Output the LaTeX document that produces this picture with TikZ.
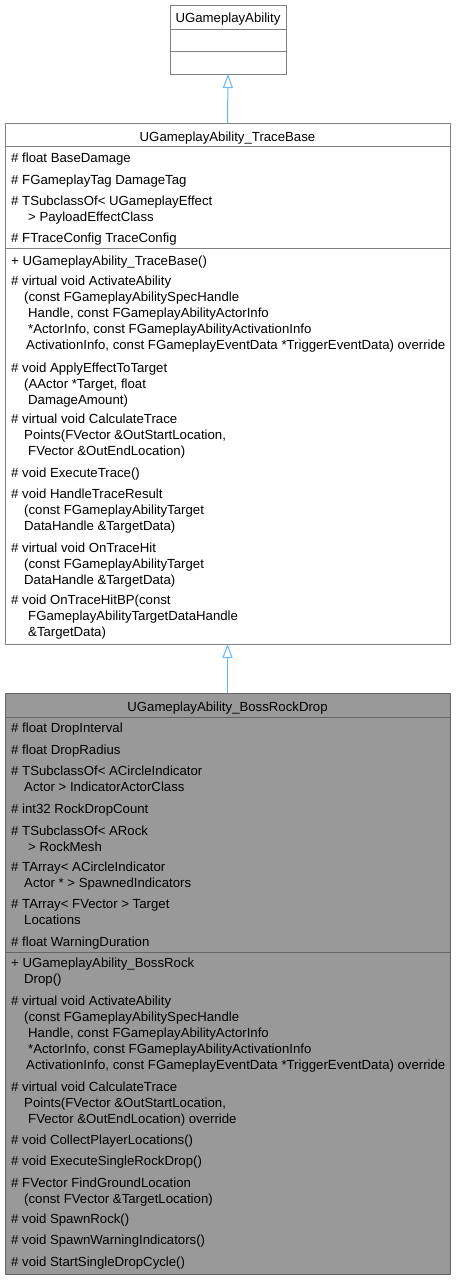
\documentclass[tikz,border=0pt]{standalone}
\usepackage{fontspec}
\setmainfont{Liberation Sans}
\usetikzlibrary{arrows.meta}
\definecolor{edgeblue}{HTML}{63B8FF}
\definecolor{boxline}{HTML}{808080}
\definecolor{hiline}{HTML}{666666}
\definecolor{hifill}{HTML}{999999}
\newcommand{\ia}{\hspace*{13pt}}
\newcommand{\ib}{\hspace*{17pt}}
\newcommand{\ic}{\hspace*{15pt}}
\newcommand{\st}{\rule{0pt}{11pt}}
\begin{document}
\begin{tikzpicture}[x=1pt,y=-1pt,
	box/.style={draw=boxline, fill=white, line width=1pt, inner sep=0, outer sep=0},
	hibox/.style={draw=hiline, fill=hifill, line width=1pt, inner sep=0, outer sep=0},
	sep/.style={boxline, line width=1pt},
	hisep/.style={hiline, line width=1pt},
	title/.style={anchor=north, inner sep=0, font=\fontsize{13.2}{16}\selectfont},
	member/.style={anchor=north west, inner sep=0, align=left, font=\fontsize{13.2}{16}\selectfont},
	inherit/.style={edgeblue, line width=1pt, -{Triangle[open, length=14pt, width=10pt]}}]
	
	\useasboundingbox (0,0) rectangle (456,1280);
	
	% base class
	\node[box, minimum width=116, minimum height=69] (base) at (228,39.5) {};
	\draw[sep] (170,29) -- (286,29);
	\draw[sep] (170,51) -- (286,51);
	\node[title] (basename) at (228,22-11) {\st UGameplayAbility};
	
	% trace base
	\node[box, minimum width=445, minimum height=521] (trace) at (227.5,383.5) {};
	\draw[sep] (5,146) -- (450,146);
	\draw[sep] (5,248) -- (450,248);
	\node[title] (tracename) at (227.5,141-11) {\st UGameplayAbility\_TraceBase};
	
	\node[member] (ta1) at (11,162-11) {\st\# float BaseDamage};
	\node[member] (ta2) at (11,184-11) {\st\# FGameplayTag DamageTag};
	\node[member] (ta3) at (11,205-11) {\st\# TSubclassOf< UGameplayEffect\\ \ib> PayloadEffectClass};
	\node[member] (ta4) at (11,242-11) {\st\# FTraceConfig TraceConfig};
	
	\node[member] (tm1) at (11,265-11) {\st+ UGameplayAbility\_TraceBase()};
	\node[member] (tm2) at (11,285-11) {\st\# virtual void ActivateAbility\\ \ia(const FGameplayAbilitySpecHandle\\ \ib Handle, const FGameplayAbilityActorInfo\\ \ib *ActorInfo, const FGameplayAbilityActivationInfo\\ \ic ActivationInfo, const FGameplayEventData *TriggerEventData) override};
	\node[member] (tm3) at (11,372-11) {\st\# void ApplyEffectToTarget\\ \ia(AActor *Target, float\\ \ib DamageAmount)};
	\node[member] (tm4) at (11,423-11) {\st\# virtual void CalculateTrace\\ \ia Points(FVector \&OutStartLocation,\\ \ib FVector \&OutEndLocation)};
	\node[member] (tm5) at (11,477-11) {\st\# void ExecuteTrace()};
	\node[member] (tm6) at (11,498-11) {\st\# void HandleTraceResult\\ \ia(const FGameplayAbilityTarget\\ \ia DataHandle \&TargetData)};
	\node[member] (tm7) at (11,552-11) {\st\# virtual void OnTraceHit\\ \ia(const FGameplayAbilityTarget\\ \ia DataHandle \&TargetData)};
	\node[member] (tm8) at (11,604-11) {\st\# void OnTraceHitBP(const\\ \ib FGameplayAbilityTargetDataHandle\\ \ib\&TargetData)};
	
	% boss rock drop
	\node[hibox, minimum width=445, minimum height=581] (rock) at (227.5,983.5) {};
	\draw[hisep] (5,717) -- (450,717);
	\draw[hisep] (5,952) -- (450,952);
	\node[title] (rockname) at (227.5,711-11) {\st UGameplayAbility\_BossRockDrop};
	
	\node[member] (ra1) at (11,732-11) {\st\# float DropInterval};
	\node[member] (ra2) at (11,754-11) {\st\# float DropRadius};
	\node[member] (ra3) at (11,775-11) {\st\# TSubclassOf< ACircleIndicator\\ \ia Actor > IndicatorActorClass};
	\node[member] (ra4) at (11,813-11) {\st\# int32 RockDropCount};
	\node[member] (ra5) at (11,835-11) {\st\# TSubclassOf< ARock\\ \ib> RockMesh};
	\node[member] (ra6) at (11,871-11) {\st\# TArray< ACircleIndicator\\ \ia Actor * > SpawnedIndicators};
	\node[member] (ra7) at (11,908-11) {\st\# TArray< FVector > Target\\ \ia Locations};
	\node[member] (ra8) at (11,946-11) {\st\# float WarningDuration};
	
	\node[member] (rm1) at (11,967-11) {\st+ UGameplayAbility\_BossRock\\ \ia Drop()};
	\node[member] (rm2) at (11,1005-11) {\st\# virtual void ActivateAbility\\ \ia(const FGameplayAbilitySpecHandle\\ \ib Handle, const FGameplayAbilityActorInfo\\ \ib *ActorInfo, const FGameplayAbilityActivationInfo\\ \ic ActivationInfo, const FGameplayEventData *TriggerEventData) override};
	\node[member] (rm3) at (11,1091-11) {\st\# virtual void CalculateTrace\\ \ia Points(FVector \&OutStartLocation,\\ \ib FVector \&OutEndLocation) override};
	\node[member] (rm4) at (11,1144-11) {\st\# void CollectPlayerLocations()};
	\node[member] (rm5) at (11,1165-11) {\st\# void ExecuteSingleRockDrop()};
	\node[member] (rm6) at (11,1187-11) {\st\# FVector FindGroundLocation\\ \ia(const FVector \&TargetLocation)};
	\node[member] (rm7) at (11,1223-11) {\st\# void SpawnRock()};
	\node[member] (rm8) at (11,1244-11) {\st\# void SpawnWarningIndicators()};
	\node[member] (rm9) at (11,1266-11) {\st\# void StartSingleDropCycle()};
	
	% inheritance
	\draw[inherit] (trace.north) -- (base.south);
	\draw[inherit] (rock.north) -- (trace.south);
	
\end{tikzpicture}
\end{document}
